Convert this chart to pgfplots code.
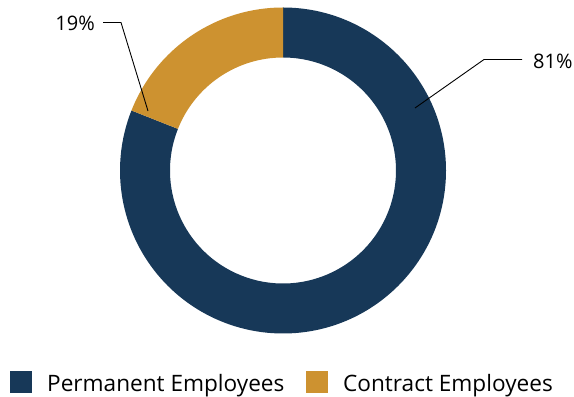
\documentclass[border=0pt]{standalone}
\usepackage{pgfplots}
\usepackage{pgfplotstable}
\usepackage{fontspec}
\setmainfont{Open Sans}
\pgfplotsset{compat=1.18}
\definecolor{navy}{HTML}{173858}
\definecolor{gold}{HTML}{CD9230}
\pgfplotstableread{
label value
Permanent 81
Contract 19
}\datatable
\pgfplotstablegetelem{0}{value}\of\datatable \edef\va{\pgfplotsretval}
\pgfplotstablegetelem{1}{value}\of\datatable \edef\vb{\pgfplotsretval}
\pgfmathsetmacro\cx{283}
\pgfmathsetmacro\cy{225.5}
\pgfmathsetmacro\Ro{163}
\pgfmathsetmacro\Ri{113}
\pgfmathsetmacro\angA{90-3.6*\va}
\pgfmathsetmacro\angB{\angA-3.6*\vb}
\pgfmathsetmacro\xAo{\cx+\Ro*cos(90)}\pgfmathsetmacro\yAo{\cy+\Ro*sin(90)}
\pgfmathsetmacro\xAi{\cx+\Ri*cos(\angA)}\pgfmathsetmacro\yAi{\cy+\Ri*sin(\angA)}
\pgfmathsetmacro\xBo{\cx+\Ro*cos(\angA)}\pgfmathsetmacro\yBo{\cy+\Ro*sin(\angA)}
\pgfmathsetmacro\xBi{\cx+\Ri*cos(\angB)}\pgfmathsetmacro\yBi{\cy+\Ri*sin(\angB)}
\begin{document}%
\begin{tikzpicture}
\begin{axis}[
  width=574bp, height=396bp, scale only axis,
  xmin=0, xmax=574, ymin=0, ymax=396,
  hide axis, clip=false,
  /pgf/number format/assume math mode=true,
]
\path (axis cs:0,0) rectangle (axis cs:574,396);
\fill[navy] (axis cs:\xAo,\yAo) arc[start angle=90, end angle=\angA, radius=\Ro]
  -- (axis cs:\xAi,\yAi) arc[start angle=\angA, end angle=90, radius=\Ri] -- cycle;
\fill[gold] (axis cs:\xBo,\yBo) arc[start angle=\angA, end angle=\angB, radius=\Ro]
  -- (axis cs:\xBi,\yBi) arc[start angle=\angB, end angle=\angA, radius=\Ri] -- cycle;
% leader lines
\draw[black, line width=0.9bp] (axis cs:148,285) -- (axis cs:121,373.5) -- (axis cs:103,373.5);
\draw[black, line width=0.9bp] (axis cs:415,288) -- (axis cs:484,336.5) -- (axis cs:522,336.5);
\node[anchor=east, inner sep=0pt, font=\fontsize{20bp}{23bp}\selectfont] at (axis cs:95,372.5) {\vb\%};
\node[anchor=west, inner sep=0pt, font=\fontsize{20bp}{23bp}\selectfont] at (axis cs:533,335) {\va\%};
% legend
\fill[navy] (axis cs:10,3) rectangle (axis cs:32,25);
\fill[gold] (axis cs:306,3) rectangle (axis cs:328,25);
\node[anchor=base west, inner sep=0pt, font=\fontsize{22.6bp}{26bp}\selectfont] at (axis cs:47,5) {Permanent Employees};
\node[anchor=base west, inner sep=0pt, font=\fontsize{22.6bp}{26bp}\selectfont] at (axis cs:343,5) {Contract Employees};
\end{axis}
\end{tikzpicture}%
\end{document}
